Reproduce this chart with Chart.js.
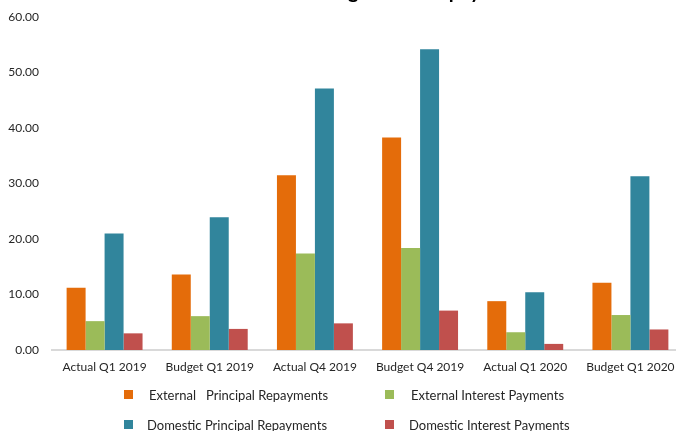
<!DOCTYPE html>
<html>
<head>
<meta charset="utf-8">
<script src="https://cdn.jsdelivr.net/npm/chart.js@4/dist/chart.umd.min.js"></script>
<style>
  html, body { margin: 0; padding: 0; background: #fff; }
  body { width: 676px; height: 431px; overflow: hidden; position: relative; font-family: Lato, "Open Sans", sans-serif; }
  .chart-wrap { position: absolute; left: 0; top: -20px; width: 690px; height: 451px; }
  .legend-item { position: absolute; font-size: 13px; color: #262626; white-space: pre; line-height: 14px; }
  .legend-item .swatch { position: absolute; width: 9px; height: 9px; top: 2px; }
</style>
</head>
<body>
<div class="chart-wrap"><canvas id="payments-chart"></canvas></div>
<div id="legend"></div>
<script>
// Debt service payments, actual vs budget
const periods = ['Actual Q1 2019', 'Budget Q1 2019', 'Actual Q4 2019', 'Budget Q4 2019', 'Actual Q1 2020', 'Budget Q1 2020'];
const externalPrincipal = [11.2, 13.6, 31.5, 38.3, 8.8, 12.1];
const externalInterest = [5.2, 6.1, 17.4, 18.4, 3.2, 6.3];
const domesticPrincipal = [21.0, 23.9, 47.1, 54.2, 10.4, 31.3];
const domesticInterest = [3.0, 3.8, 4.8, 7.1, 1.1, 3.7];
const yTicks = [0, 10, 20, 30, 40, 50, 60];

const seriesNames = ['External   Principal Repayments', 'External Interest Payments', 'Domestic Principal Repayments', 'Domestic Interest Payments'];
const seriesColors = ['#E46C0A', '#9BBB59', '#31859C', '#C0504D'];
const seriesData = [externalPrincipal, externalInterest, domesticPrincipal, domesticInterest];

const fontFamily = 'Lato, "Open Sans", sans-serif';

const datasets = seriesData.map((data, i) => ({
  label: seriesNames[i],
  data: data,
  backgroundColor: seriesColors[i],
  borderWidth: 0,
  categoryPercentage: 0.722,
  barPercentage: 1
}));

const ctx = document.getElementById('payments-chart').getContext('2d');
new Chart(ctx, {
  type: 'bar',
  data: { labels: periods, datasets: datasets },
  options: {
    responsive: true,
    maintainAspectRatio: false,
    animation: false,
    layout: { padding: { left: 0, right: 7, top: 0, bottom: 51 } },
    plugins: {
      legend: { display: false },
      tooltip: { enabled: false },
      title: {
        display: true,
        text: 'Trend of Actual vs Budgeted debt payments',
        color: '#000',
        font: { family: fontFamily, size: 20, weight: 'bold', lineHeight: 1.2 },
        padding: { top: 0, bottom: 13 }
      }
    },
    scales: {
      x: {
        grid: { display: false, drawTicks: false },
        border: { display: true, color: '#D9D9D9', width: 2 },
        ticks: { color: '#262626', font: { family: fontFamily, size: 12 }, padding: 10, maxRotation: 0 },
        afterFit: (scale) => { scale.height = 30; }
      },
      y: {
        min: 0,
        max: 60,
        grid: { display: false, drawTicks: false },
        border: { display: false },
        afterBuildTicks: (scale) => { scale.ticks = yTicks.map(v => ({ value: v })); },
        ticks: {
          color: '#262626',
          font: { family: fontFamily, size: 12 },
          padding: 13,
          callback: (value) => Number(value).toFixed(2)
        },
        afterFit: (scale) => { scale.width = 52; }
      }
    }
  }
});

// two-column legend under the axis
const legendSpots = [
  { left: 124, top: 388, textLeft: 25 },
  { left: 385, top: 388, textLeft: 26 },
  { left: 124, top: 418, textLeft: 23 },
  { left: 385, top: 418, textLeft: 24 }
];
const legend = document.getElementById('legend');
seriesNames.forEach((name, i) => {
  const spot = legendSpots[i];
  const item = document.createElement('div');
  item.className = 'legend-item';
  item.style.left = spot.left + 'px';
  item.style.top = spot.top + 'px';
  item.innerHTML = '<span class="swatch" style="left:0;background:' + seriesColors[i] + '"></span>' +
    '<span style="margin-left:' + spot.textLeft + 'px">' + name + '</span>';
  legend.appendChild(item);
});
</script>
</body>
</html>
